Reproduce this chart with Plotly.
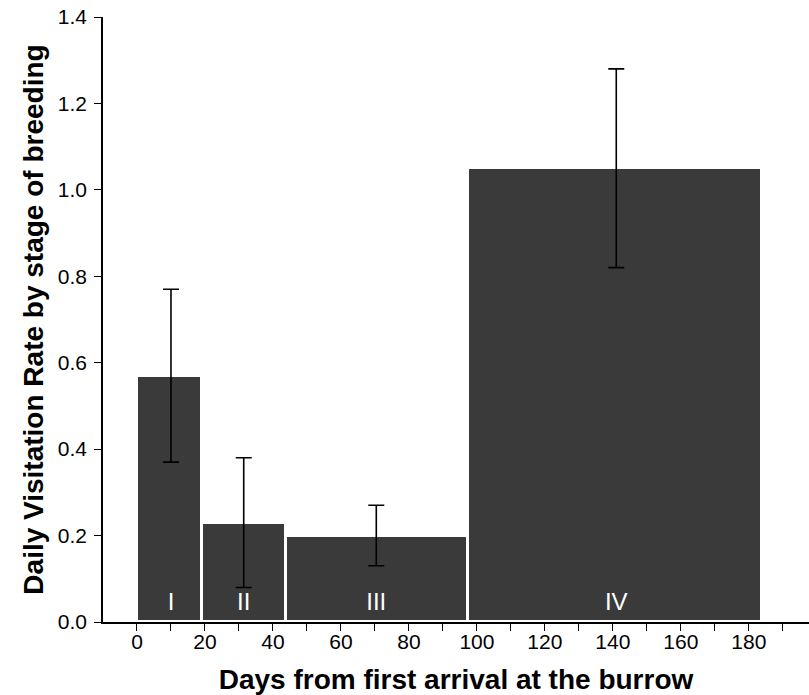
import plotly.graph_objects as go

# Data
stages = ["I", "II", "III", "IV"]
bar_edges = [0, 19.2, 43.8, 97.3, 184]
rates = [0.57, 0.23, 0.20, 1.05]
err_x = [10, 31.4, 70.4, 141]
err_low = [0.37, 0.08, 0.13, 0.82]
err_high = [0.77, 0.38, 0.27, 1.28]
label_y = 0.042

centers = [(a + b) / 2 for a, b in zip(bar_edges[:-1], bar_edges[1:])]
widths = [b - a for a, b in zip(bar_edges[:-1], bar_edges[1:])]
mids = [(l + h) / 2 for l, h in zip(err_low, err_high)]

fig = go.Figure()
fig.add_trace(go.Bar(
    x=centers, y=rates, width=widths,
    marker=dict(color="#3a3a3a", line=dict(color="white", width=3)),
    hoverinfo="skip", showlegend=False,
))
fig.add_trace(go.Scatter(
    x=err_x, y=mids,
    mode="markers", marker=dict(size=0.1, color="rgba(0,0,0,0)"),
    error_y=dict(type="data", symmetric=False,
                 array=[h - m for h, m in zip(err_high, mids)],
                 arrayminus=[m - l for l, m in zip(err_low, mids)],
                 color="black", thickness=1.6, width=8),
    showlegend=False, hoverinfo="skip",
))
fig.add_trace(go.Scatter(
    x=err_x, y=[label_y] * len(stages), text=stages, mode="text",
    textfont=dict(color="white", size=24, family="Liberation Sans, Arial, sans-serif"),
    showlegend=False, hoverinfo="skip",
))

fig.update_layout(
    width=809, height=695,
    margin=dict(l=103, r=0, t=17, b=73),
    plot_bgcolor="white", paper_bgcolor="white",
    font=dict(family="Liberation Sans, Arial, sans-serif", color="black", size=21),
    bargap=0,
    xaxis=dict(
        range=[-10, 197.7], tickmode="array",
        tickvals=[0, 20, 40, 60, 80, 100, 120, 140, 160, 180],
        ticks="outside", ticklen=7, tickwidth=1.3, tickcolor="black",
        minor=dict(tickvals=[10, 30, 50, 70, 90, 110, 130, 150, 170, 190],
                   ticks="outside", ticklen=7, tickwidth=1.3, tickcolor="black"),
        showline=True, linecolor="black", linewidth=1.5,
        showgrid=False, zeroline=False,
        tickfont=dict(size=21), ticklabelstandoff=-7,
        title=dict(text="<b>Days from first arrival at the burrow</b>",
                   font=dict(size=28), standoff=17),
    ),
    yaxis=dict(
        range=[0, 1.4], tickmode="array",
        tickvals=[0, 0.2, 0.4, 0.6, 0.8, 1.0, 1.2, 1.4],
        ticktext=["0.0", "0.2", "0.4", "0.6", "0.8", "1.0", "1.2", "1.4"],
        ticks="outside", ticklen=7, tickwidth=1.3, tickcolor="black",
        showline=True, linecolor="black", linewidth=1.5,
        showgrid=False, zeroline=False,
        tickfont=dict(size=21), ticklabelstandoff=3,
        title=dict(text="<b>Daily Visitation Rate by stage of breeding</b>",
                   font=dict(size=28), standoff=6),
    ),
)

fig.write_html("out.html")
